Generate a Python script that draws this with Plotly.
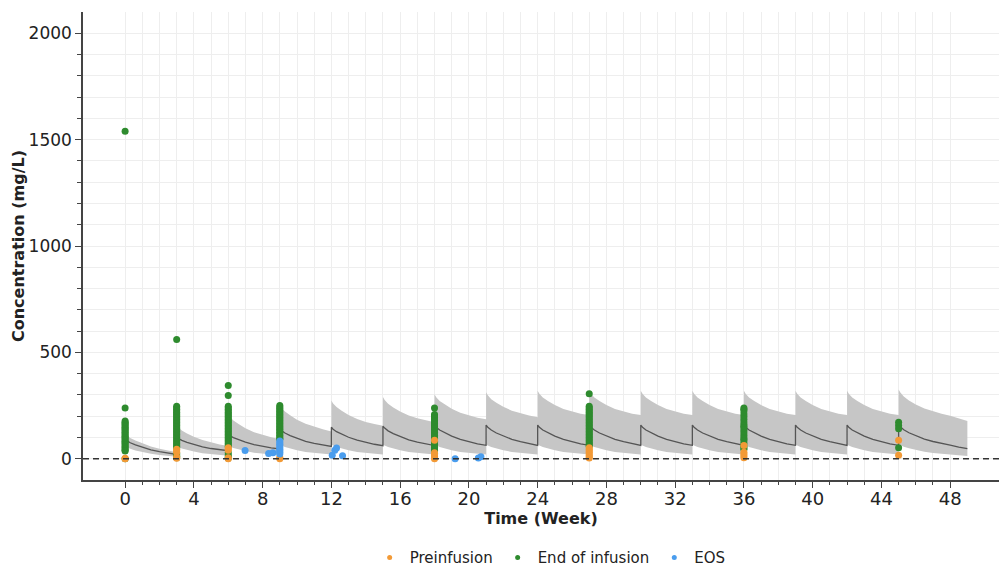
import plotly.graph_objects as go

# ---------------- data ----------------
# Dosing every 3 weeks; simulated exposure band sampled at fixed offsets after each dose
DOSE_WEEKS = [0, 3, 6, 9, 12, 15, 18, 21, 24, 27, 30, 33, 36, 39, 42, 45]
CYCLE_OFFSETS = [0, 0.1, 0.3, 0.6, 1, 1.5, 2, 2.5, 3]
LAST_CYCLE_OFFSETS = [0, 0.1, 0.3, 0.6, 1, 1.5, 2, 2.5, 3, 3.5, 4]

# 95th percentile (mg/L)
UPPER_SS = [320, 306, 288, 271, 252, 234, 222, 212, 205]
UPPER = [
    [118, 110, 98, 86, 72, 58, 47, 38, 31],
    [155, 146, 133, 119, 103, 88, 77, 67, 60],
    [208, 196, 180, 163, 143, 125, 112, 101, 92],
    [252, 239, 222, 204, 183, 164, 150, 138, 128],
    [274, 260, 243, 226, 206, 187, 173, 163, 155],
    [290, 276, 259, 241, 222, 203, 190, 180, 172],
    [303, 289, 271, 254, 235, 216, 203, 193, 185],
    [312, 298, 280, 263, 244, 226, 213, 203, 195],
    UPPER_SS, UPPER_SS, UPPER_SS, UPPER_SS, UPPER_SS, UPPER_SS, UPPER_SS,
    [326, 311, 292, 274, 255, 236, 222, 211, 202, 189, 177],
]

# median (mg/L)
MEDIAN_SS = [158, 148, 135, 121, 106, 91, 80, 70, 63]
MEDIAN = [
    [90, 84, 75, 65, 54, 42, 33, 26, 20],
    [100, 94, 86, 77, 67, 56, 48, 42, 38],
    [115, 108, 99, 89, 78, 66, 57, 51, 46],
    [140, 132, 121, 109, 96, 82, 72, 64, 58],
    [148, 139, 127, 115, 101, 87, 76, 68, 61],
    [153, 144, 131, 118, 104, 89, 78, 69, 62],
    MEDIAN_SS, MEDIAN_SS, MEDIAN_SS, MEDIAN_SS, MEDIAN_SS,
    MEDIAN_SS, MEDIAN_SS, MEDIAN_SS, MEDIAN_SS,
    [160, 150, 136, 122, 107, 92, 81, 71, 64, 55, 47],
]

# 5th percentile (mg/L)
LOWER_SS = [66, 62, 55, 48, 40, 32, 27, 23, 20]
LOWER = [
    [58, 54, 47, 39, 31, 23, 17, 12, 9],
    [58, 54, 48, 41, 34, 26, 21, 17, 14],
    [62, 58, 51, 44, 36, 28, 23, 19, 16],
    LOWER_SS, LOWER_SS, LOWER_SS, LOWER_SS, LOWER_SS, LOWER_SS,
    LOWER_SS, LOWER_SS, LOWER_SS, LOWER_SS, LOWER_SS, LOWER_SS,
    [68, 63, 56, 49, 41, 33, 27, 23, 20, 16, 13],
]

# Observed concentrations by sampling visit (week)
PRE_VISITS = [0, 3, 6, 9, 18, 27, 36, 45]
PRE_CONC = [
    [0, 2],
    [44, 38, 31, 8, 2],
    [52, 46, 40, 5, 0],
    [6, 0],
    [87, 28, 20, 12, 5, 0],
    [52, 45, 38, 30, 22, 15, 8, 3],
    [62, 30, 22, 14, 5],
    [87, 16],
]

EOI_VISITS = [0, 3, 6, 9, 18, 27, 36, 45]
EOI_CONC = [
    [1540, 239, 177, 172, 166, 160, 154, 148, 142, 136, 130, 124, 118, 112,
     106, 100, 94, 88, 82, 76, 70, 64, 58, 52, 46, 40, 36, 0],
    [560, 247, 240, 233, 226, 219, 212, 205, 198, 191, 184, 177, 170, 163,
     156, 149, 142, 135, 128, 121, 114, 107, 100, 93, 86, 79, 72, 65, 58,
     51, 25, 18, 12, 5],
    [344, 297, 247, 240, 233, 226, 219, 212, 205, 198, 191, 184, 177, 170,
     163, 156, 149, 142, 135, 128, 121, 114, 107, 100, 93, 86, 79, 72, 65,
     58, 28, 18, 8, 2],
    [250, 243, 236, 229, 222, 215, 208, 201, 194, 187, 180, 173, 166, 159,
     152, 145, 138, 131, 124, 117, 110, 103, 96, 91],
    [239, 208, 201, 194, 187, 180, 173, 166, 159, 152, 145, 138, 131, 124,
     117, 110, 103, 96, 89, 82, 75, 68, 61, 54, 47, 40, 33, 26, 20],
    [306, 247, 240, 233, 226, 219, 212, 205, 198, 191, 184, 177, 170, 163,
     156, 149, 142, 135, 128, 121, 114, 107, 100, 93, 86, 79, 72, 65, 59],
    [239, 232, 224, 210, 198, 185, 173, 161, 153, 146, 134, 122, 110, 99,
     91, 83, 71, 59, 51, 44],
    [172, 156, 141, 52],
]

EOS_WEEK = [6.98, 8.35, 8.6, 9, 9, 9, 9, 9, 9, 9, 9, 9,
            12.05, 12.2, 12.3, 12.65, 19.2, 20.55, 20.7]
EOS_CONC = [39, 25, 28, 83, 75, 68, 60, 52, 45, 38, 30, 22,
            16, 40, 50, 14, 0, 4, 9]

X_TICKS = list(range(0, 49, 4))
Y_TICKS = [0, 500, 1000, 1500, 2000]

C_PRE = "#F39A36"
C_EOI = "#2E8B2E"
C_EOS = "#4A9DEE"
FONT = "DejaVu Sans, Arial, sans-serif"

# ---------------- assemble series ----------------
band_x, up_y, med_y, lo_y = [], [], [], []
for i, dose in enumerate(DOSE_WEEKS):
    offs = LAST_CYCLE_OFFSETS if i == len(DOSE_WEEKS) - 1 else CYCLE_OFFSETS
    for j, off in enumerate(offs):
        band_x.append(dose + off)
        up_y.append(UPPER[i][j])
        med_y.append(MEDIAN[i][j])
        lo_y.append(LOWER[i][j])


def flatten(visits, groups):
    xs, ys = [], []
    for v, vals in zip(visits, groups):
        xs.extend([v] * len(vals))
        ys.extend(vals)
    return xs, ys


pre_x, pre_y = flatten(PRE_VISITS, PRE_CONC)
eoi_x, eoi_y = flatten(EOI_VISITS, EOI_CONC)

fig = go.Figure()

# prediction interval band
fig.add_trace(go.Scatter(
    x=band_x + band_x[::-1], y=up_y + lo_y[::-1],
    fill="toself", fillcolor="#C6C6C6", line=dict(width=0),
    mode="lines", hoverinfo="skip", showlegend=False))

# median prediction
fig.add_trace(go.Scatter(
    x=band_x, y=med_y, mode="lines",
    line=dict(color="#555555", width=1.3), showlegend=False))

# observations
fig.add_trace(go.Scatter(x=eoi_x, y=eoi_y, mode="markers",
                         marker=dict(color=C_EOI, size=7), showlegend=False))
fig.add_trace(go.Scatter(x=pre_x, y=pre_y, mode="markers",
                         marker=dict(color=C_PRE, size=7), showlegend=False))
fig.add_trace(go.Scatter(x=EOS_WEEK, y=EOS_CONC, mode="markers",
                         marker=dict(color=C_EOS, size=7), showlegend=False))

# legend entries
for name, col in [("Preinfusion", C_PRE), ("End of infusion", C_EOI), ("EOS", C_EOS)]:
    fig.add_trace(go.Scatter(x=[None], y=[None], mode="markers", name=name,
                             marker=dict(color=col, size=5), showlegend=True))

# zero reference line
fig.add_shape(type="line", xref="paper", x0=0, x1=1, yref="y", y0=0, y1=0,
              line=dict(color="#333333", width=1.3, dash="6px,4px"))

fig.update_layout(
    width=999, height=569,
    margin=dict(l=83, r=0, t=12, b=89, autoexpand=False),
    plot_bgcolor="white", paper_bgcolor="white",
    font=dict(family=FONT, color="#222222"),
    legend=dict(orientation="h", x=0.51, xanchor="center",
                y=-0.166, yanchor="middle", font=dict(size=15),
                itemwidth=30, tracegroupgap=0,
                bgcolor="rgba(0,0,0,0)"),
    xaxis=dict(
        range=[-2.45, 50.84], tickmode="array", tickvals=X_TICKS,
        ticks="outside", ticklen=6, tickwidth=1, tickcolor="#444444",
        showline=True, linecolor="#444444", linewidth=1.5,
        showgrid=True, gridcolor="#EEEEEE", gridwidth=1, zeroline=False,
        tickfont=dict(size=18, color="#222222"), ticklabelstandoff=-4,
        minor=dict(tickmode="array", tickvals=list(range(0, 49)),
                   ticks="outside", ticklen=3, tickcolor="#444444",
                   showgrid=True, gridcolor="#EEEEEE", gridwidth=1),
        title=dict(text="<b>Time (Week)</b>", font=dict(size=16), standoff=3),
    ),
    yaxis=dict(
        range=[-100, 2100], tickmode="array", tickvals=Y_TICKS,
        ticks="outside", ticklen=6, tickwidth=1, tickcolor="#444444",
        showline=True, linecolor="#444444", linewidth=1.5,
        showgrid=True, gridcolor="#EEEEEE", gridwidth=1, zeroline=False,
        tickfont=dict(size=17, color="#222222"),
        minor=dict(tickmode="array", tickvals=list(range(0, 2001, 100)),
                   ticks="outside", ticklen=4, tickcolor="#444444",
                   showgrid=True, gridcolor="#EEEEEE", gridwidth=1),
        title=dict(text="<b>Concentration (mg/L)</b>", font=dict(size=16), standoff=0),
    ),
)

fig.write_html("out.html")
